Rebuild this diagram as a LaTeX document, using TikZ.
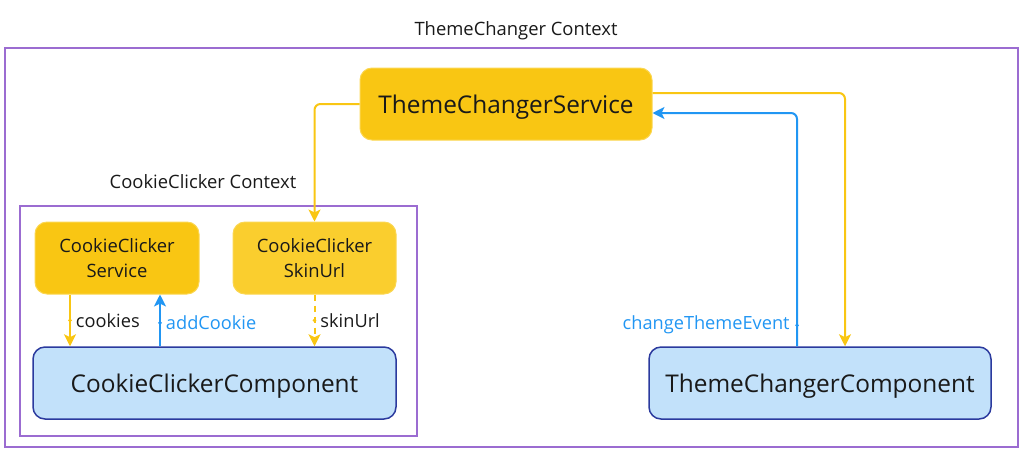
\documentclass[tikz,border=0pt]{standalone}
\usepackage{fontspec}
\setmainfont{Open Sans}
\usetikzlibrary{arrows.meta}
\definecolor{ylw}{RGB}{249,198,19}
\definecolor{ylwlight}{RGB}{250,206,46}
\definecolor{ylwborder}{RGB}{251,214,80}
\definecolor{blu}{RGB}{33,150,243}
\definecolor{lblue}{RGB}{194,225,250}
\definecolor{dblue}{RGB}{43,58,158}
\definecolor{purp}{RGB}{155,108,209}
\tikzset{
  svc/.style={draw=ylwborder, line width=1pt, fill=ylw, rounded corners=12pt, align=center, text=black!90},
  cmp/.style={draw=dblue, line width=1.5pt, fill=lblue, rounded corners=12pt, align=center, text=black!90, text depth=0pt, font=\fontsize{24.4}{29}\selectfont},
  frame/.style={draw=purp, line width=1.3pt},
  ctxlabel/.style={font=\fontsize{18.4}{22}\selectfont, text=black!90},
  yarrow/.style={draw=ylw, line width=2pt, rounded corners=6pt, -{Stealth[length=12pt,width=12pt,inset=3pt]}},
  barrow/.style={draw=blu, line width=2pt, rounded corners=6pt, -{Stealth[length=12pt,width=12pt,inset=3pt]}},
  ydot/.style={circle, fill=ylw, inner sep=1.4pt},
  bdot/.style={circle, fill=blu, inner sep=1.4pt},
  lbl/.style={font=\fontsize{18.2}{22}\selectfont, text=black!90, inner sep=2pt},
  blbl/.style={font=\fontsize{18.2}{22}\selectfont, text=blu, inner sep=2pt},
}
\begin{document}
\begin{tikzpicture}[x=1pt,y=-1pt]
\useasboundingbox (0,0) rectangle (1024,451);
% frames
\draw[frame] (5,48) rectangle (1018,447);
\draw[frame] (20,206) rectangle (417,436);
\node[ctxlabel] (ctxtc) at (516,31) {ThemeChanger Context};
\node[ctxlabel] (ctxcc) at (203,182) {CookieClicker Context};
% nodes
\node[svc, minimum width=292pt, minimum height=72pt, text depth=0pt, font=\fontsize{24.4}{29}\selectfont] (tcs) at (506,104) {ThemeChangerService};
\node[svc, minimum width=164pt, minimum height=72pt, font=\fontsize{18.4}{25}\selectfont] (ccs) at (117,258) {CookieClicker\\Service};
\node[svc, fill=ylwlight, minimum width=163pt, minimum height=72pt, font=\fontsize{18.4}{25}\selectfont] (skin) at (314.5,258) {CookieClicker\\SkinUrl};
\node[cmp, minimum width=363pt, minimum height=72pt] (ccc) at (214.5,383) {CookieClickerComponent};
\node[cmp, minimum width=342pt, minimum height=72pt] (tcc) at (820,383) {ThemeChangerComponent};
% connectors
\draw[yarrow] (tcs.west) -| (skin.north);
\draw[yarrow] ([yshift=11pt]tcs.east) -| ([xshift=25pt]tcc.north);
\draw[barrow] ([xshift=-23pt]tcc.north) |- ([yshift=-9pt]tcs.east);
\node[bdot, label={[blbl, label distance=3pt]left:changeThemeEvent}] (evdot) at ([xshift=-23pt,yshift=21pt]tcc.north) {};
\draw[yarrow] ([xshift=-47pt]ccs.south) -- ([xshift=-47pt]ccs.south |- ccc.north)
  node[pos=0.5, ydot, label={[lbl]right:cookies}] {};
\draw[barrow] ([xshift=43pt]ccs.south |- ccc.north) -- ([xshift=43pt]ccs.south)
  node[pos=0.45, bdot, label={[blbl]right:addCookie}] {};
\draw[yarrow, dash pattern=on 6pt off 5pt] (skin.south) -- (skin.south |- ccc.north)
  node[pos=0.5, ydot, label={[lbl]right:skinUrl}] {};
\end{tikzpicture}
\end{document}
